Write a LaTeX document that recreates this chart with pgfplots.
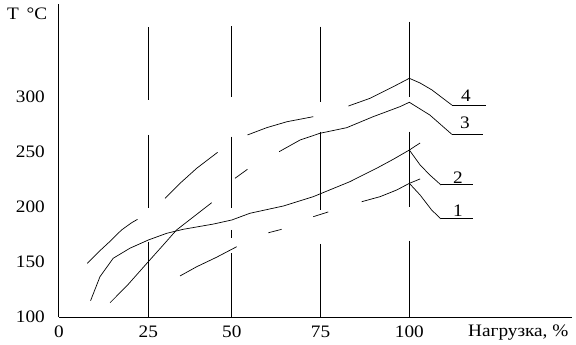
\documentclass[border=0pt]{standalone}
\usepackage{fontspec}
\setmainfont{Liberation Serif}[FakeStretch=1.1]
\usepackage{pgfplots}
\pgfplotsset{compat=1.18}
\begin{document}
\fontsize{17.5bp}{20bp}\selectfont
\begin{tikzpicture}
\begin{axis}[
 x=3.48bp, y=1.1bp,
 xmin=-0.57, xmax=146.8, ymin=100, ymax=384.5,
 axis x line=bottom, axis y line=left,
 axis line style={-, line width=1bp},
 xtick={-0.57,25.1,49.1,74.6,100.1},
 xticklabels={0,25,50,75,100},
 ytick={100,150,200,250,300},
 major tick length=0pt,
 tick label style={font=\fontsize{17.5bp}{20bp}\selectfont, inner sep=0pt},
 xticklabel style={anchor=north, yshift=-9bp},
 yticklabel style={anchor=east, xshift=-14bp},
 /pgf/number format/assume math mode=true,
 clip=false,
 unbounded coords=jump,
]
\coordinate (O) at (axis cs:-0.57,100);
% vertical grid lines with gaps
\addplot[black, line width=1bp] coordinates {(25.1,363.6) (25.1,297.3) (25.1,nan) (25.1,265.5) (25.1,199.1) (25.1,nan) (25.1,168.2) (25.1,100)};
\addplot[black, line width=1bp] coordinates {(49.1,364.5) (49.1,300.3) (49.1,nan) (49.1,263.9) (49.1,198.8) (49.1,nan) (49.1,179.1) (49.1,171.5) (49.1,nan) (49.1,157.9) (49.1,100)};
\addplot[black, line width=1bp] coordinates {(74.6,363.9) (74.6,295.7) (74.6,nan) (74.6,268.5) (74.6,197.3) (74.6,nan) (74.6,166.4) (74.6,100)};
\addplot[black, line width=1bp] coordinates {(100.1,368.5) (100.1,300.3) (100.1,nan) (100.1,268.5) (100.1,200.3) (100.1,nan) (100.1,169.4) (100.1,100)};
% curve 4
\addplot[black, line width=0.7bp] coordinates {
(7.56,148.8) (11.2,160.3) (14.0,168.5) (17.4,179.1) (20.3,185.7) (22.0,188.8) (22.0,nan)
(29.9,207.9) (34.2,221.5) (39.0,235.2) (45.0,249.7) (45.0,nan)
(53.6,265.5) (59.1,272.1) (64.9,277.5) (72.5,282.1) (72.5,nan)
(82.6,291.8) (88.8,298.8) (95.5,309.4) (100.1,317.0)
(103.2,312.7) (106.6,306.4) (112.3,292.7)};
% curve 3
\addplot[black, line width=0.7bp] coordinates {
(14.1,113.0) (18.9,128.2) (25.1,150.3) (29.4,165.5) (33.2,179.1) (43.3,203.9) (43.3,nan)
(50.0,226.1) (53.6,234.3) (53.6,nan)
(62.7,250.3) (68.7,260.9) (74.4,267.0) (82.1,272.1) (89.7,282.1) (97.4,291.2) (100.1,295.2)
(106.0,283.6) (112.3,266.1)};
% curve 2
\addplot[black, line width=0.7bp] coordinates {
(8.5,114.8) (11.2,136.6) (15.0,153.4) (19.8,162.5) (25.1,170.0) (30.4,176.1) (35.1,179.7)
(43.8,184.5) (49.1,188.2) (54.3,194.3) (63.9,200.9) (72.5,209.4) (83.0,223.0) (90.7,235.2)
(95.5,243.4) (100.1,251.8) (103.2,258.2)};
\addplot[black, line width=0.7bp] coordinates {(100.1,251.8) (103.2,238.2) (106.0,229.1) (109.2,220.0)};
% curve 1
\addplot[black, line width=0.7bp] coordinates {
(34.2,137.3) (39.0,145.7) (44.7,154.3) (50.5,163.9) (50.5,nan)
(59.6,176.6) (63.4,179.7) (63.4,nan)
(72.5,191.2) (76.8,195.5) (76.8,nan)
(86.4,204.8) (91.7,209.4) (96.5,215.5) (100.1,221.5) (103.2,225.5)};
\addplot[black, line width=0.7bp] coordinates {(100.1,221.5) (103.2,210.9) (106.5,197.3) (109.2,189.1)};
% label shelves
\addplot[black, line width=1bp] coordinates {(112.3,292.7) (122.1,292.7)};
\addplot[black, line width=1bp] coordinates {(112.3,266.1) (121.2,266.1)};
\addplot[black, line width=1bp] coordinates {(109.2,220.0) (118.3,220.0)};
\addplot[black, line width=1bp] coordinates {(109.2,189.1) (118.3,189.1)};
\node[anchor=south, inner sep=0pt, yshift=3bp] at (axis cs:116.4,292.7) {4};
\node[anchor=south, inner sep=0pt, yshift=5bp] at (axis cs:116.1,266.1) {3};
\node[anchor=south, inner sep=0pt, yshift=1bp] at (axis cs:114.1,220.0) {2};
\node[anchor=south, inner sep=0pt, yshift=2bp] at (axis cs:114.1,189.1) {1};
\node[anchor=base west, inner sep=0pt] at (axis cs:116.95,82.7) {Нагрузка, \%};
\node[anchor=base west, inner sep=0pt] at (axis cs:-15.5,370) {T \,°C};
\end{axis}
\pgfresetboundingbox
\path[use as bounding box] ([shift={(-59bp,-28bp)}]O) rectangle ([shift={(517bp,317bp)}]O);
\end{tikzpicture}
\end{document}
